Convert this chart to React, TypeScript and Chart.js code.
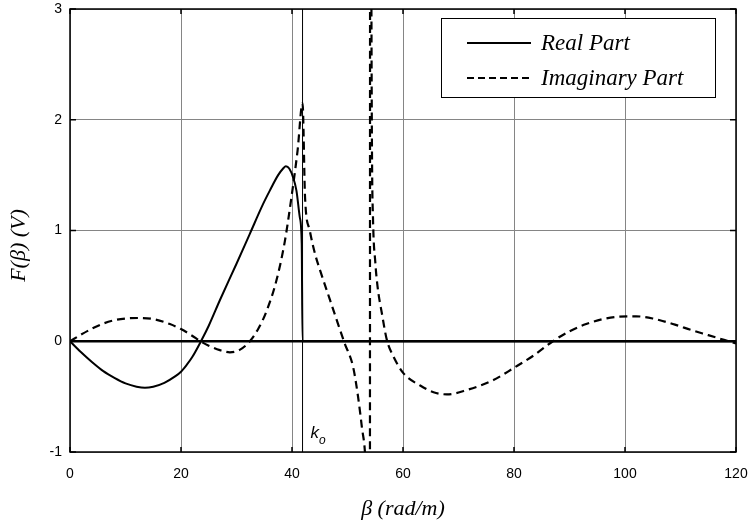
import React, { useEffect, useRef } from 'react';
import { Chart, registerables } from 'chart.js';

Chart.register(...registerables);

// ---- data ----
const realBeta = [0, 2, 4, 6, 8, 10, 12, 13.5, 15, 17, 19, 20, 21, 22, 23.6, 25, 27, 30, 32.4, 34.8, 36, 37.5, 38.4, 38.9, 39.5, 40.2, 40.8, 41.4, 41.75, 41.9, 60, 80, 100, 120];
const realValues = [0, -0.1, -0.19, -0.27, -0.33, -0.38, -0.41, -0.42, -0.41, -0.375, -0.315, -0.275, -0.215, -0.145, 0, 0.14, 0.37, 0.7, 0.97, 1.24, 1.36, 1.5, 1.56, 1.58, 1.56, 1.48, 1.36, 1.12, 0.88, 0, 0, 0, 0, 0];

const imagBeta = [0, 2, 4, 6, 8, 10, 12.4, 15, 18, 20, 22, 23.5, 25, 27, 28.8, 30.5, 32.4, 34, 35.4, 37.2, 38.7, 39.9, 41, 41.9, 42.35, 43.2, 44.2, 45, 46.8, 48, 49.5, 51, 51.9, 52.6, 53.2, 53.6, 53.9, 54.0, 54.1, 54.3, 54.4, 54.6, 55.0, 55.4, 56.2, 57.1, 58.3, 60.1, 63.1, 65.5, 67.9, 71.5, 76.3, 80, 83.5, 87, 90, 93, 96, 99, 102, 105, 109, 112, 115, 118, 120];
const imagValues = [0, 0.06, 0.115, 0.16, 0.19, 0.205, 0.21, 0.2, 0.155, 0.11, 0.05, 0, -0.04, -0.08, -0.1, -0.08, 0, 0.12, 0.27, 0.55, 0.9, 1.3, 1.72, 2.15, 1.3, 1.0, 0.78, 0.65, 0.38, 0.2, -0.02, -0.23, -0.5, -0.78, -1.05, -1.6, -3.5, -8, 8, 3.2, 1.8, 1.1, 0.72, 0.5, 0.25, 0.01, -0.14, -0.29, -0.4, -0.46, -0.48, -0.44, -0.35, -0.24, -0.13, 0, 0.09, 0.155, 0.2, 0.222, 0.225, 0.205, 0.15, 0.1, 0.055, 0.01, -0.02];

const xTicks = [0, 20, 40, 60, 80, 100, 120];
const yTicks = [-1, 0, 1, 2, 3];
const kO = 41.9;
const legendLabels = ['Real Part', 'Imaginary Part'];
const xTitle = 'β (rad/m)';
const yTitle = 'F(β) (V)';
const kLabel = 'k';
const kSub = 'o';

const SERIF = "'Liberation Serif', 'Times New Roman', serif";
const SANS = "'Liberation Sans', Arial, sans-serif";
const DASH = [8, 5];

const overlay = {
  id: 'overlay',
  beforeDatasetsDraw(chart: any) {
    const { ctx, chartArea: a, scales } = chart;
    const px = scales.x.getPixelForValue(kO);
    ctx.save();
    ctx.strokeStyle = '#000';
    ctx.lineWidth = 1;
    ctx.beginPath();
    ctx.moveTo(px, a.top);
    ctx.lineTo(px, a.bottom);
    ctx.stroke();
    ctx.restore();
  },
  afterDraw(chart: any) {
    const { ctx, chartArea: a, scales } = chart;
    ctx.save();
    ctx.strokeStyle = '#000';
    ctx.lineWidth = 1.5;
    ctx.strokeRect(a.left, a.top, a.right - a.left, a.bottom - a.top);
    ctx.beginPath();
    xTicks.forEach((v) => {
      const p = scales.x.getPixelForValue(v);
      ctx.moveTo(p, a.bottom);
      ctx.lineTo(p, a.bottom - 5);
      ctx.moveTo(p, a.top);
      ctx.lineTo(p, a.top + 5);
    });
    yTicks.forEach((v) => {
      const p = scales.y.getPixelForValue(v);
      ctx.moveTo(a.left, p);
      ctx.lineTo(a.left + 6, p);
      ctx.moveTo(a.right, p);
      ctx.lineTo(a.right - 6, p);
    });
    ctx.stroke();

    const kx = scales.x.getPixelForValue(kO) + 8;
    ctx.fillStyle = '#000';
    ctx.textAlign = 'left';
    ctx.textBaseline = 'alphabetic';
    ctx.font = `italic 17px ${SANS}`;
    ctx.fillText(kLabel, kx, a.bottom - 14);
    const kw = ctx.measureText(kLabel).width;
    ctx.font = `italic 12px ${SANS}`;
    ctx.fillText(kSub, kx + kw, a.bottom - 8);

    const bw = 274;
    const bh = 79;
    const bx = a.right - 21 - bw;
    const by = a.top + 9;
    ctx.fillStyle = '#fff';
    ctx.fillRect(bx, by, bw, bh);
    ctx.strokeStyle = '#000';
    ctx.lineWidth = 1;
    ctx.strokeRect(bx + 0.5, by + 0.5, bw, bh);
    ctx.font = `italic 23px ${SERIF}`;
    ctx.textBaseline = 'middle';
    legendLabels.forEach((label, i) => {
      const ly = by + 25 + i * 35;
      ctx.lineWidth = 2;
      ctx.setLineDash(i === 0 ? [] : [7, 4]);
      ctx.beginPath();
      ctx.moveTo(bx + 26, ly);
      ctx.lineTo(bx + 90, ly);
      ctx.stroke();
      ctx.setLineDash([]);
      ctx.fillStyle = '#000';
      ctx.fillText(label, bx + 100, ly + 1);
    });

    ctx.font = `italic 22px ${SERIF}`;
    ctx.textAlign = 'center';
    ctx.textBaseline = 'middle';
    ctx.fillText(xTitle, (a.left + a.right) / 2, 509);
    ctx.translate(19, (a.top + a.bottom) / 2 + 15);
    ctx.rotate(-Math.PI / 2);
    ctx.fillText(yTitle, 0, 0);
    ctx.restore();
  },
};

export default function App() {
  const ref = useRef<HTMLCanvasElement | null>(null);
  useEffect(() => {
    if (!ref.current) return;
    const chart = new Chart(ref.current, {
      type: 'line',
      data: {
        datasets: [
          {
            label: legendLabels[0],
            data: realBeta.map((x, i) => ({ x, y: realValues[i] })),
            borderColor: '#000',
            borderWidth: 2,
            pointRadius: 0,
            fill: false,
            cubicInterpolationMode: 'monotone',
            tension: 0.4,
            clip: 0,
          } as any,
          {
            label: legendLabels[1],
            data: imagBeta.map((x, i) => ({ x, y: imagValues[i] })),
            borderColor: '#000',
            borderWidth: 2.2,
            borderDash: DASH,
            pointRadius: 0,
            fill: false,
            cubicInterpolationMode: 'monotone',
            tension: 0.4,
            clip: 0,
          } as any,
        ],
      },
      options: {
        responsive: false,
        animation: false,
        parsing: true,
        devicePixelRatio: window.devicePixelRatio || 1,
        layout: { padding: { left: 0, right: 16, top: 9, bottom: 0 } },
        plugins: { legend: { display: false }, tooltip: { enabled: false } },
        scales: {
          x: {
            type: 'linear',
            min: 0,
            max: 120,
            afterFit: (s: any) => { s.height = 72; s.paddingLeft = 0; s.paddingRight = 0; },
            afterBuildTicks: (s: any) => { s.ticks = xTicks.map((v) => ({ value: v })); },
            ticks: { color: '#000', font: { family: SANS, size: 14 }, padding: 14, maxRotation: 0 },
            grid: { color: '#858585', lineWidth: 1, drawTicks: false },
            border: { display: false },
          },
          y: {
            type: 'linear',
            min: -1,
            max: 3,
            afterFit: (s: any) => { s.width = 70; s.paddingTop = 0; s.paddingBottom = 0; },
            afterBuildTicks: (s: any) => { s.ticks = yTicks.map((v) => ({ value: v })); },
            ticks: { color: '#000', font: { family: SANS, size: 14 }, padding: 8 },
            grid: {
              color: (c: any) => (c.tick && c.tick.value === 0 ? '#000' : '#858585'),
              lineWidth: (c: any) => (c.tick && c.tick.value === 0 ? 2.5 : 1),
              drawTicks: false,
            },
            border: { display: false },
          },
        },
      },
      plugins: [overlay],
    } as any);
    return () => chart.destroy();
  }, []);
  return (
    <div style={{ position: 'absolute', left: 0, top: 0, width: 752, height: 524, background: '#fff' }}>
      <canvas ref={ref} width={752} height={524} />
    </div>
  );
}
